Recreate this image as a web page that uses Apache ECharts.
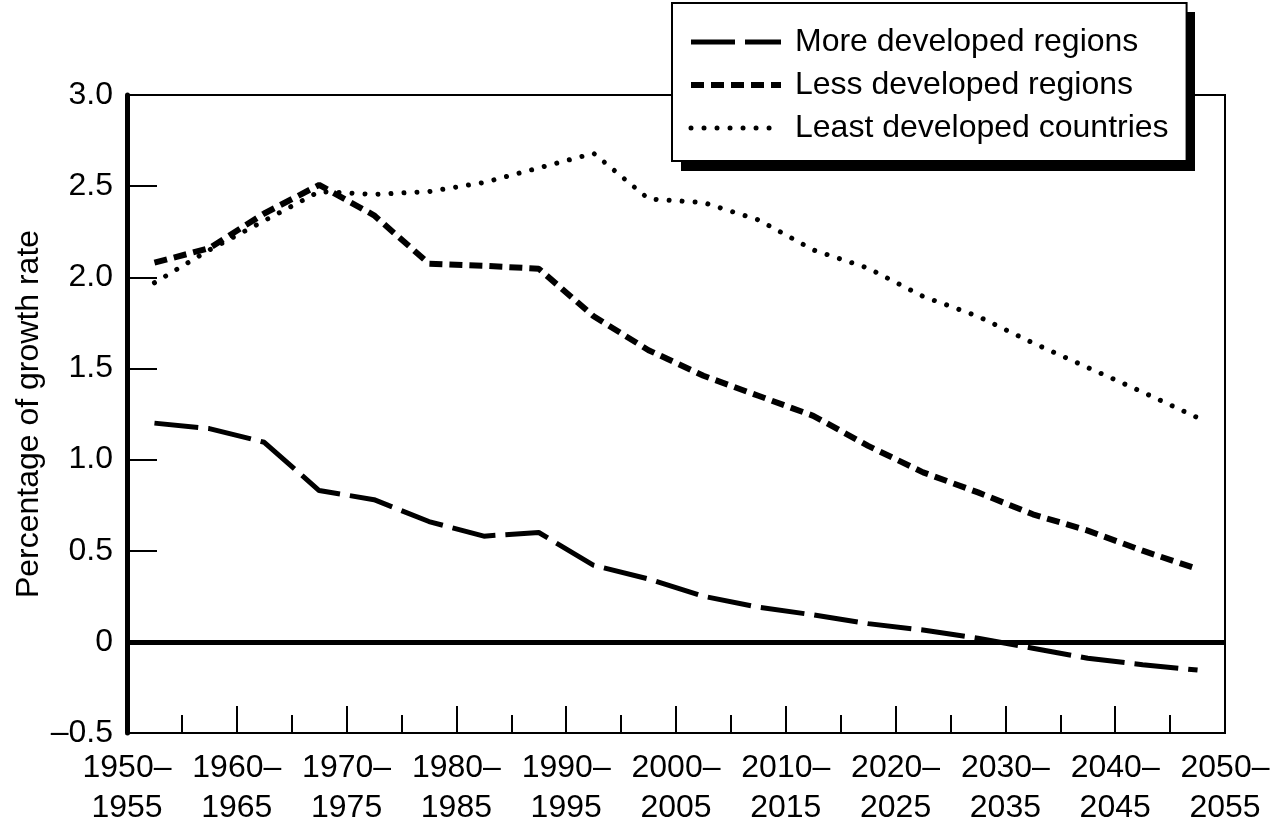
<!DOCTYPE html>
<html>
<head>
<meta charset="utf-8">
<script src="https://cdn.jsdelivr.net/npm/echarts@6/dist/echarts.min.js"></script>
<style>
  html, body { margin: 0; padding: 0; background: #fff; }
  #chart { width: 1281px; height: 828px; }
</style>
</head>
<body>
<div id="chart"></div>
<script>
// Period midpoints (1950–1955 ... 2045–2050)
const periodMid = [1952.5, 1957.5, 1962.5, 1967.5, 1972.5, 1977.5, 1982.5, 1987.5, 1992.5, 1997.5,
                   2002.5, 2007.5, 2012.5, 2017.5, 2022.5, 2027.5, 2032.5, 2037.5, 2042.5, 2047.5];
const seriesNames = ['More developed regions', 'Less developed regions', 'Least developed countries'];
const moreDeveloped = [1.20, 1.17, 1.095, 0.83, 0.78, 0.66, 0.58, 0.60, 0.42, 0.345,
                       0.25, 0.19, 0.148, 0.10, 0.065, 0.02, -0.035, -0.09, -0.125, -0.155];
const lessDeveloped = [2.08, 2.16, 2.35, 2.507, 2.34, 2.075, 2.063, 2.047, 1.786, 1.60,
                       1.46, 1.35, 1.24, 1.075, 0.93, 0.82, 0.70, 0.61, 0.50, 0.40];
const leastDeveloped = [1.97, 2.15, 2.31, 2.47, 2.455, 2.47, 2.52, 2.60, 2.68, 2.43,
                        2.41, 2.315, 2.15, 2.05, 1.895, 1.786, 1.64, 1.505, 1.37, 1.23];
const xTickStarts = [1950, 1960, 1970, 1980, 1990, 2000, 2010, 2020, 2030, 2040, 2050];
const yTicks = [-0.5, 0, 0.5, 1.0, 1.5, 2.0, 2.5, 3.0];

const FONT = '"Liberation Sans", Arial, Helvetica, sans-serif';
const lineStyles = [
  { color: '#000', width: 5, type: [44, 10] },
  { color: '#000', width: 6, type: [13, 7] },
  { color: '#000', width: 5, type: [0.01, 13], cap: 'round' }
];

function pairs(ys) { return periodMid.map((x, i) => [x, ys[i]]); }

const chart = echarts.init(document.getElementById('chart'), null, { renderer: 'canvas' });
chart.setOption({
  animation: false,
  backgroundColor: '#fff',
  textStyle: { fontFamily: FONT, color: '#000' },
  grid: {
    left: 127, right: 56, top: 95, bottom: 94,
    show: true, borderColor: '#000', borderWidth: 2, backgroundColor: 'transparent'
  },
  graphic: [
    { type: 'rect', z: 3, silent: true,
      shape: { x: 681, y: 12, width: 514, height: 159 },
      style: { fill: '#000' } }
  ],
  legend: {
    orient: 'vertical',
    left: 672, top: 3,
    padding: [23, 18, 17, 16],
    itemWidth: 90, itemHeight: 14, itemGap: 11,
    backgroundColor: '#fff',
    borderColor: '#000', borderWidth: 2,
    itemStyle: { opacity: 0 },
    textStyle: { fontFamily: FONT, fontSize: 32, color: '#000', padding: [0, 0, 0, 9] },
    data: seriesNames.map((n, i) => ({ name: n, lineStyle: lineStyles[i], itemStyle: { opacity: 0 } })),
    z: 4
  },
  xAxis: {
    type: 'value', min: xTickStarts[0], max: xTickStarts[xTickStarts.length - 1], interval: 10,
    axisLine: { show: true, onZero: false, lineStyle: { color: '#000', width: 2 } },
    axisTick: { show: true, inside: true, length: 27, lineStyle: { color: '#000', width: 2 } },
    minorTick: { show: true, splitNumber: 2, length: 18, lineStyle: { color: '#000', width: 2 } },
    splitLine: { show: false },
    axisLabel: {
      fontFamily: FONT, fontSize: 32, color: '#000', margin: 15, lineHeight: 40,
      showMinLabel: true, showMaxLabel: true,
      formatter: v => v + '–\n' + (v + 5)
    }
  },
  yAxis: {
    type: 'value', min: yTicks[0], max: yTicks[yTicks.length - 1], interval: 0.5,
    name: 'Percentage of growth rate', nameLocation: 'middle', nameGap: 82, nameRotate: 90,
    nameMoveOverlap: false,
    nameTextStyle: { fontFamily: FONT, fontSize: 32, color: '#000' },
    axisLine: { show: true, onZero: false, lineStyle: { color: '#000', width: 5 } },
    axisTick: { show: true, inside: true, length: 30, lineStyle: { color: '#000', width: 2 } },
    splitLine: { show: false },
    axisLabel: {
      fontFamily: FONT, fontSize: 32, color: '#000', margin: 14,
      formatter: v => v === 0 ? '0' : (v < 0 ? '–' + Math.abs(v).toFixed(1) : v.toFixed(1))
    }
  },
  series: [
    {
      name: seriesNames[0], type: 'line', data: pairs(moreDeveloped),
      symbol: 'none', color: '#000',
      lineStyle: lineStyles[0],
      markLine: {
        silent: true, symbol: 'none', label: { show: false },
        lineStyle: { color: '#000', width: 5, type: 'solid' },
        data: [{ yAxis: 0 }]
      },
      z: 2
    },
    {
      name: seriesNames[1], type: 'line', data: pairs(lessDeveloped),
      symbol: 'none', color: '#000',
      lineStyle: lineStyles[1],
      z: 2
    },
    {
      name: seriesNames[2], type: 'line', data: pairs(leastDeveloped),
      symbol: 'none', color: '#000',
      lineStyle: lineStyles[2],
      z: 2
    }
  ]
});
</script>
</body>
</html>
